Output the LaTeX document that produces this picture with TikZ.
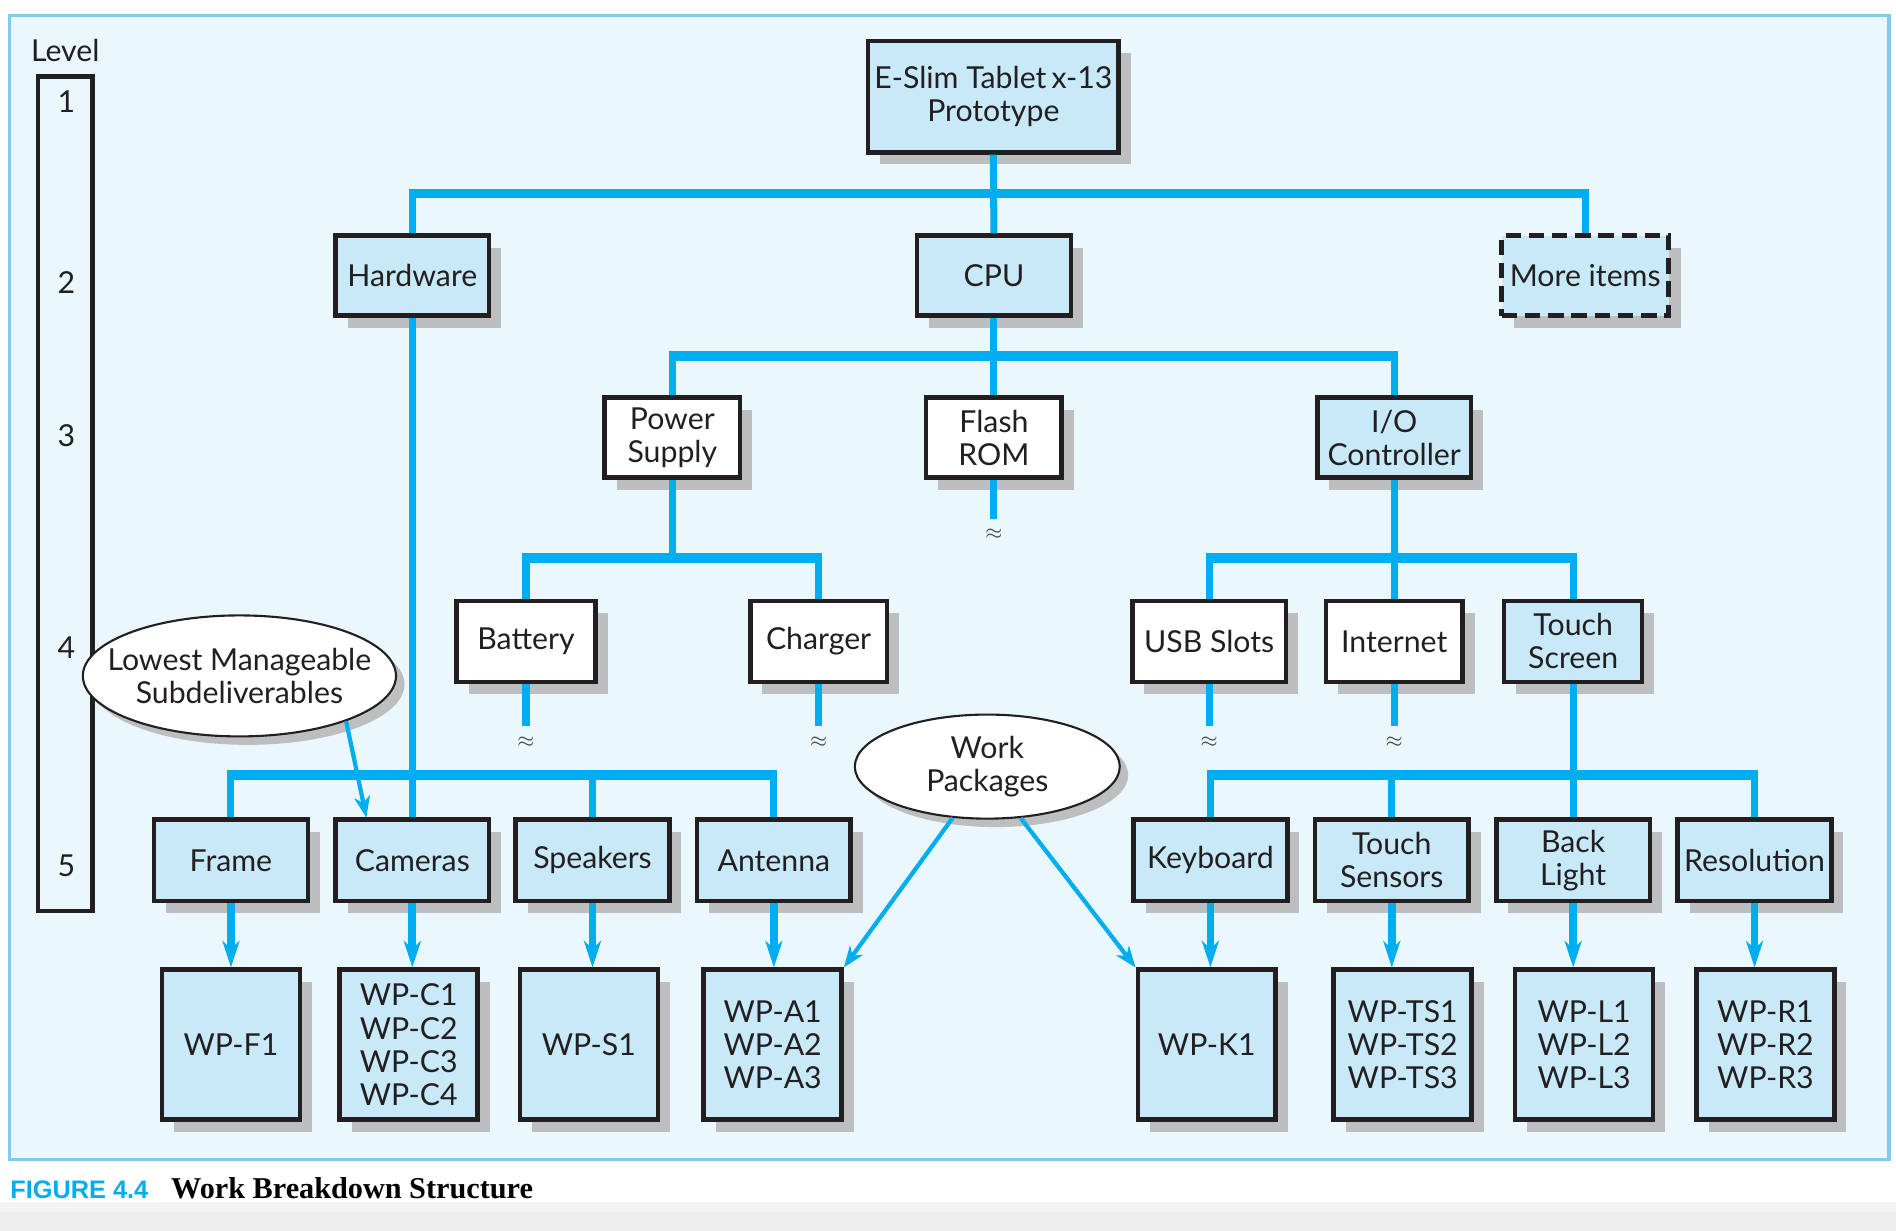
\documentclass[tikz,border=0pt]{standalone}
\usepackage{fontspec}
\setmainfont{Lato}
\newfontfamily\figfont{Liberation Sans}
\newfontfamily\capfont{Liberation Serif}
\usetikzlibrary{arrows.meta, shapes.geometric, shadows}
\definecolor{wbsblue}{HTML}{00AEEF}
\definecolor{boxblue}{HTML}{C7E9F8}
\definecolor{panelblue}{HTML}{EAF7FD}
\definecolor{panelrim}{HTML}{7FCBF1}
\definecolor{shadowgrey}{HTML}{BCBEC0}
\definecolor{stripgrey}{HTML}{F4F4F4}
\definecolor{stripdark}{HTML}{EEEEEE}
\definecolor{inkgrey}{HTML}{231F20}

\begin{document}
\begin{tikzpicture}[x=0.012092cm, y=0.012092cm,
    font=\fontsize{8.6}{9.4}\selectfont, text=inkgrey,
    box/.style={draw=inkgrey, line width=1.3pt, fill=boxblue, align=center,
      inner sep=0pt, minimum height=66*\px,
      drop shadow={shadow xshift=3.44pt, shadow yshift=-3.44pt,
        fill=shadowgrey, opacity=1}},
    whitebox/.style={box, fill=white},
    bw/.style={minimum width={(#1-4)*\px}},
    wp/.style={box, minimum width=114*\px, minimum height=124*\px},
    bubble/.style={ellipse, draw=inkgrey, line width=0.6pt, fill=white,
      align=center, inner sep=0pt,
      drop shadow={shadow xshift=2.4pt, shadow yshift=-2.4pt,
        fill=shadowgrey, opacity=1}},
    bus/.style={wbsblue, line width=2.8pt},
    wire/.style={wbsblue, line width=2pt},
    tobus/.style={wire, shorten <=-1.4pt},
    down/.style={wbsblue, line width=2.2pt,
      -{Stealth[length=7.5pt, width=4.8pt, inset=2.2pt]}},
    pointer/.style={wbsblue, line width=1.2pt,
      -{Stealth[length=6pt, width=4.5pt, inset=1.8pt]}},
    approx/.style={inner sep=0pt, text=inkgrey!80, font=\fontsize{5}{5}\selectfont},
  ]
    \def\px{0.34405pt}  % one unit of the picture
    \useasboundingbox (0,0) rectangle (1568,1018);
    % Page, grey strip and panel
    \fill[white] (0,0) rectangle (1568,1018);
    \fill[stripgrey] (0,0) rectangle (1568,24);
    \fill[stripdark] (0,0) rectangle (1568,16);
    \draw[panelrim, line width=1pt, fill=panelblue] (8,59) rectangle (1562,1005);
    % Level column
    \node (leveltitle) at (54,976) {Level};
    \node[draw=inkgrey, line width=1.2pt, minimum width=45*\px,
      minimum height=690*\px, inner sep=0pt] (levels) at (54,609.5) {};
    \foreach \n/\y in {1/934, 2/784, 3/658, 4/482, 5/302} {
      \node (lvl\n) at (55,\y) {\n};
    }
    % Level 1 and 2
    \node[box, bw=211, minimum height=92*\px] (top) at (821.5,938)
      {E-Slim Tablet\,x-13\\Prototype};
    \node[box, bw=131] (hw) at (341,790) {Hardware};
    \node[box, bw=131] (cpu) at (822,790) {CPU};
    \node[box, bw=142, dash pattern=on 4.4pt off 2.2pt] (more) at (1311,790)
      {More items};
    % Level 3
    \node[whitebox, bw=116] (power) at (556,656) {Power\\Supply};
    \node[whitebox, bw=116] (flash) at (822,656) {Flash\\ROM};
    \node[box, bw=131] (io) at (1153,656) {I/O\\Controller};
    % Level 4
    \node[whitebox, bw=119, minimum height=67*\px] (battery) at (435,487.5) {Battery};
    \node[whitebox, bw=117, minimum height=67*\px] (charger) at (677,487.5) {Charger};
    \node[whitebox, bw=131, minimum height=67*\px] (usb) at (1000,487.5) {USB Slots};
    \node[whitebox, bw=117, minimum height=67*\px] (internet) at (1153,487.5) {Internet};
    \node[box, bw=118, minimum height=67*\px] (touch) at (1301,487.5) {Touch\\Screen};
    % Level 5
    \foreach \name/\x/\txt in {frame/191/Frame, cameras/341/Cameras,
        speakers/490/Speakers, antenna/640/Antenna, keyboard/1001/Keyboard,
        tsens/1151/{Touch\\Sensors}, blight/1301/{Back\\Light},
        resol/1451/Resolution} {
      \node[box, bw=131, minimum height=67*\px] (\name) at (\x,306.5) {\txt};
    }
    % Work packages
    \foreach \name/\x/\txt in {wpf/191/WP-F1,
        wpc/338/{WP-C1\\WP-C2\\WP-C3\\WP-C4}, wps/487/WP-S1,
        wpa/639/{WP-A1\\WP-A2\\WP-A3}, wpk/998/WP-K1,
        wpts/1160/{WP-TS1\\WP-TS2\\WP-TS3}, wpl/1310/{WP-L1\\WP-L2\\WP-L3},
        wpr/1460/{WP-R1\\WP-R2\\WP-R3}} {
      \node[wp] (\name) at (\x,154) {\txt};
    }
    % Buses: bar from first to last child, then a drop to every child
    \coordinate (bus2) at (822,858);
    \coordinate (bus3) at (822,723.5);
    \coordinate (bus4l) at (556,556.5);
    \coordinate (bus4r) at (1153,556.5);
    \coordinate (bus5l) at (341,377);
    \coordinate (bus5r) at (1301,377);
    \foreach \b/\first/\last/\kids in {bus2/hw/more/{hw,more},
        bus3/power/io/{power,io}, bus4l/battery/charger/{battery,charger},
        bus4r/usb/touch/{usb,touch},
        bus5l/frame/antenna/{frame,speakers,antenna},
        bus5r/keyboard/resol/{keyboard,tsens,resol}} {
      \draw[bus] (\first.north |- \b) -- (\last.north |- \b);
      \foreach \c in \kids {
        \draw[tobus] (\c.north |- \b) -- (\c.north);
      }
    }
    % Parents into their bus or straight down
    \draw[wire] (top.south) -- (cpu.north);
    \draw[wire] (cpu.south) -- (flash.north);
    \draw[wire] (power.south) -- (bus4l);
    \draw[wire] (io.south) -- (internet.north);
    \draw[wire] (hw.south) -- (cameras.north);
    \draw[wire] (touch.south) -- (blight.north);
    % Cut branches
    \node[approx] (flashx) at (822,576) {$\approx$};
    \foreach \name/\x in {battery/435, charger/677, usb/1000, internet/1153} {
      \node[approx] (\name x) at (\x,404.4) {$\approx$};
    }
    \foreach \name in {flash, battery, charger, usb, internet} {
      \draw[wire, shorten >=2.75pt] (\name.south) -- (\name x.north);
    }
    % Arrows to work packages
    \foreach \a/\b in {frame/wpf, cameras/wpc, speakers/wps, antenna/wpa,
        keyboard/wpk, tsens/wpts, blight/wpl, resol/wpr} {
      \draw[down] (\a.south) -- (\a.south |- \b.north);
    }
    % Callouts
    \node[bubble, inner xsep=-6pt, minimum width=258*\px,
      minimum height=100*\px] (lowest) at (198,459)
      {Lowest Manageable\\Subdeliverables};
    \node[bubble, minimum width=219*\px, minimum height=86*\px] (workpk)
      at (816.5,384) {Work\\Packages};
    \draw[pointer] (lowest.-23) -- (cameras.137);
    \draw[pointer] (workpk.236) -- (wpa.north east);
    \draw[pointer] (workpk.-57) -- (wpk.north west);
    % Caption
    \node[anchor=base west, inner sep=0pt, text=wbsblue,
      font=\figfont\bfseries\fontsize{7.2}{8}\selectfont] (fignum) at (8,27)
      {FIGURE 4.4};
    \node[anchor=base west, inner sep=0pt, text=black,
      font=\capfont\bfseries\fontsize{8.6}{9}\selectfont] (figtitle) at (141,27)
      {Work Breakdown Structure};
\end{tikzpicture}
\end{document}
